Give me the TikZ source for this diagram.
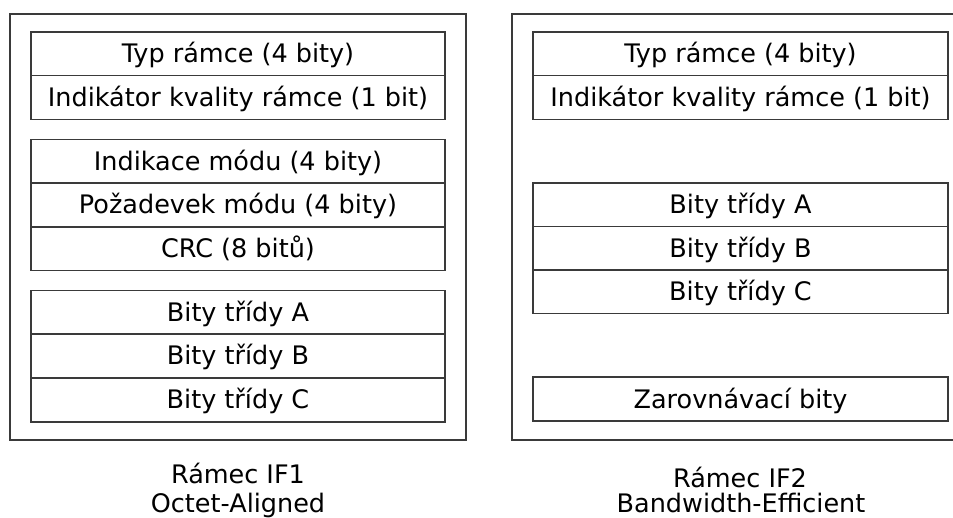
\documentclass[tikz,border=0pt]{standalone}
\usepackage{fontspec}
\setmainfont{DejaVu Sans}
\definecolor{lc}{HTML}{3A3A3A}
\begin{document}
\begin{tikzpicture}[x=1pt,y=-1pt,
  txt/.style={inner sep=0pt, text height=23pt, text depth=5pt, font=\fontsize{25.5pt}{30pt}\selectfont},
  cell/.style={txt, draw=lc, line width=1.4pt, minimum width=#1, minimum height=43.6pt},
  frame/.style={draw=lc, line width=1.4pt}]
\useasboundingbox (0,0) rectangle (953,518);
% outer frames
\node[frame, inner sep=0pt, minimum width=456pt, minimum height=426pt] (lf) at (238,227) {};
\node[frame, inner sep=0pt, minimum width=450pt, minimum height=426pt] (rf) at (737,227) {};
% left column
\node[cell=414pt] (lt1) at (238,54) {Typ rámce (4 bity)};
\node[cell=414pt] (lt2) at (238,97.5) {Indikátor kvality rámce (1 bit)};
\node[cell=414pt] (lm1) at (238,161.5) {Indikace módu (4 bity)};
\node[cell=414pt] (lm2) at (238,205) {Požadevek módu (4 bity)};
\node[cell=414pt] (lm3) at (238,249) {CRC (8 bitů)};
\node[cell=414pt] (lb1) at (238,312.5) {Bity třídy A};
\node[cell=414pt] (lb2) at (238,356) {Bity třídy B};
\node[cell=414pt] (lb3) at (238,400) {Bity třídy C};
% right column
\node[cell=415pt] (rt1) at (740.5,54) {Typ rámce (4 bity)};
\node[cell=415pt] (rt2) at (740.5,97.5) {Indikátor kvality rámce (1 bit)};
\node[cell=415pt] (ra) at (740.5,205) {Bity třídy A};
\node[cell=415pt] (rb) at (740.5,248.5) {Bity třídy B};
\node[cell=415pt] (rc) at (740.5,291.5) {Bity třídy C};
\node[cell=415pt] (rz) at (740.5,399) {Zarovnávací bity};
% captions
\node[txt] (lc1) at (238,474) {Rámec IF1};
\node[txt] (lc2) at (238,503) {Octet-Aligned};
\node[txt] (rc1) at (740,478) {Rámec IF2};
\node[txt] (rc2) at (741,503) {Bandwidth-Efficient};
\end{tikzpicture}
\end{document}
